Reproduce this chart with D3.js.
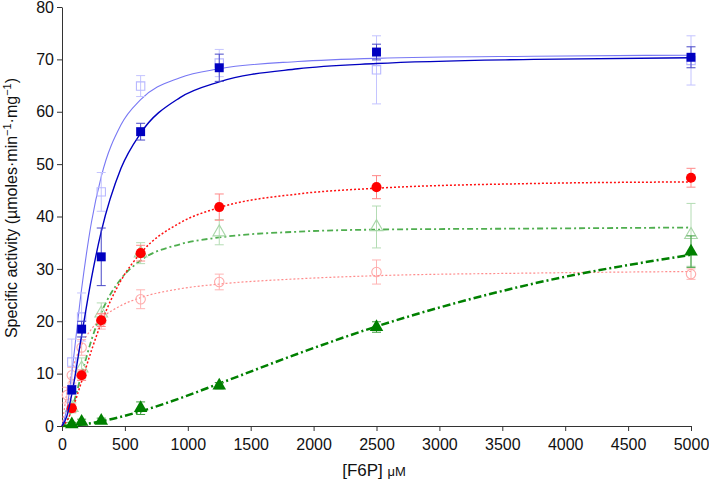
<!DOCTYPE html>
<html>
<head>
<meta charset="utf-8">
<script src="https://cdn.jsdelivr.net/npm/d3@7"></script>
<style>
  body { margin: 0; background: #fff; }
  svg text { font-family: "Liberation Sans", Arial, Helvetica, sans-serif; fill: #111; }
  .axis path, .axis line { stroke: #333; }
</style>
</head>
<body>
<svg id="chart"></svg>
<script>
// measured substrate concentrations (uM)
const conc = [78, 156, 312, 625, 1250, 2500, 5000];
const concLow = [39, 78, 156, 312, 625, 1250, 2500, 5000];

// mean specific activity and error for each enzyme / condition
const blueFilled = [6.9, 18.5, 32.3, 56.2, 68.4, 71.4, 70.4];
const blueFilledErr = [0.8, 1.5, 5.5, 1.6, 2.6, 1.5, 2.0];
const blueHollow = [12.2, 20.8, 44.7, 64.9, 69.3, 68.0, 69.8];
const blueHollowErr = [4.4, 4.6, 3.7, 2.0, 2.6, 6.5, 4.7];
const redFilled = [3.4, 9.7, 20.2, 33.0, 41.8, 45.6, 47.4];
const redFilledErr = [0.8, 1.0, 1.2, 1.5, 2.5, 2.2, 1.8];
const redHollow = [5.9, 9.7, 15.0, 20.0, 24.2, 27.5, 29.4, 29.0];
const redHollowErr = [1.5, 1.5, 1.5, 1.5, 1.8, 1.5, 2.3, 1.0];
const greenFilled = [0.3, 0.8, 1.0, 3.4, 7.7, 18.9, 33.3];
const greenFilledErr = [0.4, 0.5, 0.5, 1.2, 0.6, 1.0, 3.0];
const greenHollow = [3.5, 11.0, 21.5, 33.0, 37.0, 38.0, 36.5];
const greenHollowErr = [1.0, 2.0, 2.0, 2.0, 2.4, 4.0, 6.0];

// fitted curves
const fitConc = [0, 39, 78, 156, 234, 312, 469, 625, 938, 1250, 1875, 2500, 3750, 5000];
const blueFilledFit = [0, 1.9, 6.1, 17.3, 28.2, 37.1, 49.2, 55.9, 62.7, 65.7, 68.2, 69.2, 70.0, 70.3];
const blueHollowFit = [0, 3.3, 10.2, 26.2, 38.9, 47.6, 57.5, 62.3, 66.5, 68.2, 69.6, 70.2, 70.6, 70.8];
const redFilledFit = [0, 1.0, 3.0, 8.5, 14.4, 19.7, 27.8, 33.0, 38.8, 41.7, 44.3, 45.4, 46.3, 46.6];
const redHollowFit = [0, 6.3, 10.4, 15.5, 18.5, 20.5, 23.0, 24.5, 26.2, 27.1, 28.1, 28.7, 29.2, 29.5];
const greenHollowFit = [0, 0.9, 3.3, 9.9, 16.4, 21.6, 28.1, 31.6, 34.7, 36.0, 37.1, 37.5, 37.7, 37.9];
const greenFilledFit = [0, 0.03, 0.09, 0.28, 0.56, 0.9, 1.77, 2.8, 5.3, 8.1, 13.8, 19.0, 27.2, 32.7];

const xTicks = [0, 500, 1000, 1500, 2000, 2500, 3000, 3500, 4000, 4500, 5000];
const yTicks = [0, 10, 20, 30, 40, 50, 60, 70, 80];

class KineticsChart {
  constructor(_config) {
    this.config = {
      parentElement: _config.parentElement,
      containerWidth: _config.containerWidth || 709,
      containerHeight: _config.containerHeight || 480,
      margin: _config.margin || { top: 7, right: 18, bottom: 54, left: 62 },
    };
    this.initVis();
  }

  initVis() {
    let vis = this;
    vis.width = vis.config.containerWidth - vis.config.margin.left - vis.config.margin.right;
    vis.height = vis.config.containerHeight - vis.config.margin.top - vis.config.margin.bottom;

    vis.xScale = d3.scaleLinear().domain([0, 5000]).range([0, vis.width]);
    vis.yScale = d3.scaleLinear().domain([0, 80]).range([vis.height, 0]);

    vis.svg = d3.select(vis.config.parentElement)
      .attr("width", vis.config.containerWidth)
      .attr("height", vis.config.containerHeight);

    vis.chart = vis.svg.append("g")
      .attr("transform", `translate(${vis.config.margin.left},${vis.config.margin.top})`);

    // axes
    vis.chart.append("g")
      .attr("class", "axis x-axis")
      .attr("transform", `translate(0,${vis.height})`)
      .call(d3.axisBottom(vis.xScale).tickValues(xTicks).tickFormat(d3.format("d"))
        .tickSize(5).tickSizeOuter(0).tickPadding(8))
      .call(g => g.selectAll("text").style("font-size", "16px"));

    vis.chart.append("g")
      .attr("class", "axis y-axis")
      .call(d3.axisLeft(vis.yScale).tickValues(yTicks).tickFormat(d3.format("d"))
        .tickSize(5).tickSizeOuter(0).tickPadding(3))
      .call(g => g.selectAll("text").style("font-size", "16px"));

    // axis titles
    const yTitle = vis.svg.append("text")
      .attr("transform", "translate(17,208) rotate(-90)")
      .attr("text-anchor", "middle")
      .style("font-size", "16px");
    yTitle.append("tspan").text("Specific activity (\u00b5moles\u00b7min");
    yTitle.append("tspan").attr("dy", -6).style("font-size", "11px").text("\u22121");
    yTitle.append("tspan").attr("dy", 6).text("\u00b7mg");
    yTitle.append("tspan").attr("dy", -6).style("font-size", "11px").text("\u22121");
    yTitle.append("tspan").attr("dy", 6).text(")");

    const xTitle = vis.svg.append("text")
      .attr("x", 374)
      .attr("y", 476)
      .attr("text-anchor", "middle")
      .style("font-size", "17px");
    xTitle.append("tspan").text("[F6P] ");
    xTitle.append("tspan").style("font-size", "13px").text("\u03bcM");

    vis.line = d3.line()
      .x(d => vis.xScale(d[0]))
      .y(d => vis.yScale(d[1]))
      .curve(d3.curveMonotoneX);
  }

  renderSeries(s) {
    let vis = this;
    const g = vis.chart.append("g").attr("class", "series");

    const fit = fitConc.map((c, i) => [c, s.fit[i]]);
    g.append("path")
      .attr("d", vis.line(fit))
      .attr("fill", "none")
      .attr("stroke", s.lineColor)
      .attr("stroke-width", s.lineWidth)
      .attr("stroke-dasharray", s.dash || null);

    const pts = s.x.map((c, i) => ({ x: c, y: s.y[i], e: s.err[i] }));

    // error bars
    const cap = 4.5;
    const bars = g.selectAll(".err").data(pts).join("g").attr("class", "err")
      .attr("stroke", s.errColor).attr("stroke-width", 1);
    bars.append("line")
      .attr("x1", d => vis.xScale(d.x)).attr("x2", d => vis.xScale(d.x))
      .attr("y1", d => vis.yScale(d.y + d.e)).attr("y2", d => vis.yScale(Math.max(0, d.y - d.e)));
    bars.append("line")
      .attr("x1", d => vis.xScale(d.x) - cap).attr("x2", d => vis.xScale(d.x) + cap)
      .attr("y1", d => vis.yScale(d.y + d.e)).attr("y2", d => vis.yScale(d.y + d.e));
    bars.filter(d => d.y - d.e > 0).append("line")
      .attr("x1", d => vis.xScale(d.x) - cap).attr("x2", d => vis.xScale(d.x) + cap)
      .attr("y1", d => vis.yScale(d.y - d.e)).attr("y2", d => vis.yScale(d.y - d.e));

    // markers
    g.selectAll(".point").data(pts).join("path")
      .attr("class", "point")
      .attr("transform", d => `translate(${vis.xScale(d.x)},${vis.yScale(d.y)})`)
      .attr("d", d3.symbol().type(s.symbol).size(s.size))
      .attr("fill", s.filled ? s.markColor : "none")
      .attr("stroke", s.markColor)
      .attr("stroke-width", s.filled ? 0 : 1.1);
  }
}

const chart = new KineticsChart({ parentElement: "#chart" });

// light (hollow) series behind, dark (filled) on top
chart.renderSeries({ x: concLow, y: redHollow, err: redHollowErr, fit: redHollowFit,
  lineColor: "#ff8c8c", lineWidth: 1.2, dash: "2,2", errColor: "#ffb4b4",
  markColor: "#ffaaaa", symbol: d3.symbolCircle, size: 70, filled: false });
chart.renderSeries({ x: conc, y: greenHollow, err: greenHollowErr, fit: greenHollowFit,
  lineColor: "#4fae4f", lineWidth: 1.8, dash: "6,3,2,3", errColor: "#b4dcb4",
  markColor: "#a8d6a8", symbol: d3.symbolTriangle, size: 70, filled: false });
chart.renderSeries({ x: conc, y: blueHollow, err: blueHollowErr, fit: blueHollowFit,
  lineColor: "#7878f4", lineWidth: 1.1, dash: null, errColor: "#c4c4ff",
  markColor: "#b8b8ff", symbol: d3.symbolSquare, size: 70, filled: false });
chart.renderSeries({ x: conc, y: greenFilled, err: greenFilledErr, fit: greenFilledFit,
  lineColor: "#008000", lineWidth: 2.5, dash: "8,3,2,3", errColor: "#3c9c3c",
  markColor: "#008000", symbol: d3.symbolTriangle, size: 80, filled: true });
chart.renderSeries({ x: conc, y: redFilled, err: redFilledErr, fit: redFilledFit,
  lineColor: "#ff1010", lineWidth: 1.5, dash: "2,2", errColor: "#ff8888",
  markColor: "#ff0000", symbol: d3.symbolCircle, size: 80, filled: true });
chart.renderSeries({ x: conc, y: blueFilled, err: blueFilledErr, fit: blueFilledFit,
  lineColor: "#0000c0", lineWidth: 1.4, dash: null, errColor: "#4848c8",
  markColor: "#0000c0", symbol: d3.symbolSquare, size: 80, filled: true });
</script>
</body>
</html>
